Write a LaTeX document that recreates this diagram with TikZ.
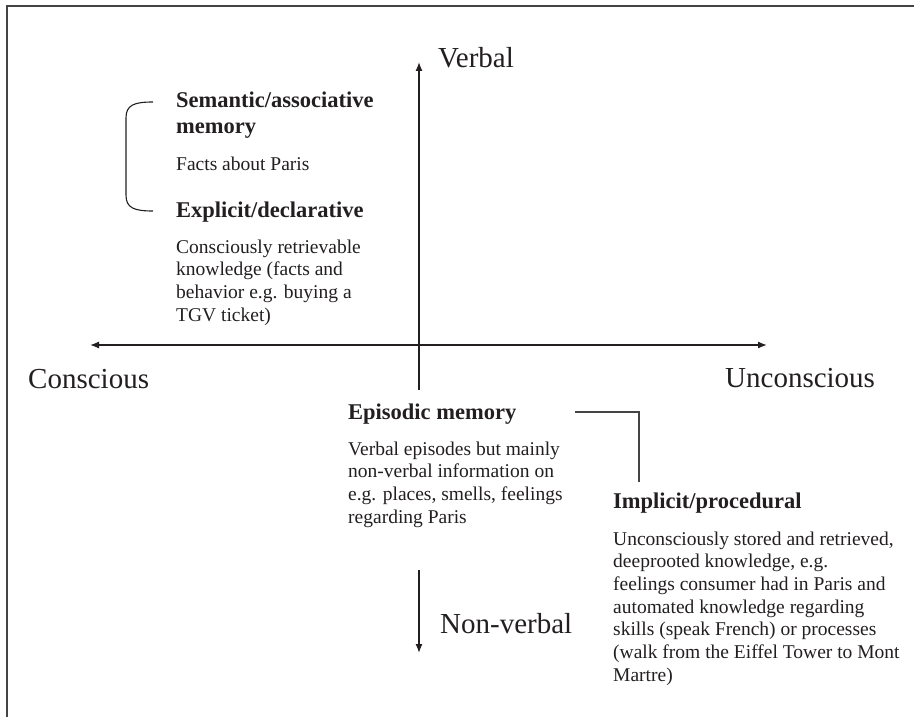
\documentclass[tikz,border=0pt]{standalone}
\usepackage{fontspec}
\setmainfont{Liberation Serif}
\usetikzlibrary{arrows.meta}
\definecolor{ink}{HTML}{231F20}
\definecolor{rule}{HTML}{444444}
\tikzset{
  big/.style={anchor=base west, inner sep=0pt, text=ink, font=\fontsize{29}{33}\selectfont},
  head/.style={anchor=base west, inner sep=0pt, text=ink, font=\fontsize{22.5}{26}\selectfont\bfseries},
  body/.style={anchor=base west, inner sep=0pt, text=ink, font=\fontsize{19.5}{22.7}\selectfont},
  axis/.style={line width=1.3pt, draw=ink},
  tip/.style={-{Latex[length=9pt,width=7pt]}},
  thin/.style={line width=1.1pt, draw=rule}
}
\newcommand{\lines}[1]{\begin{tabular}[t]{@{}l@{}}#1\end{tabular}}
\begin{document}
\begin{tikzpicture}[x=1pt,y=-1pt]
\useasboundingbox (0,0) rectangle (914,717);
% frame (only top and left edges visible)
\draw[line width=1.6pt, draw=rule] (7,717) -- (7,6) -- (914,6);

% axes
\coordinate (vtop) at (419,62);
\coordinate (vmid) at (419,390);
\coordinate (vlow) at (419,570);
\coordinate (vend) at (419,653);
\coordinate (hleft) at (90,345);
\coordinate (hright) at (767,345);
\draw[axis, tip] (vmid) -- (vtop);
\draw[axis, tip] (vlow) -- (vend);
\draw[axis, {Latex[length=9pt,width=7pt]}-{Latex[length=9pt,width=7pt]}] (hleft) -- (hright);

% axis labels
\node[big] (verbal) at (438,68) {Verbal};
\node[big] (nonverbal) at (440,633) {Non-verbal};
\node[big] (conscious) at (28,388) {Conscious};
\node[big] (unconscious) at (725,387) {Unconscious};

% semantic / explicit
\node[head] (sem) at (176,108) {\lines{Semantic/associative\\memory}};
\node[body] (semb) at (176,170) {Facts about Paris};
\node[head] (expl) at (176,217) {Explicit/declarative};
\node[body] (explb) at (176,253) {\lines{Consciously retrievable\\knowledge (facts and\\behavior e.g. buying a\\TGV ticket)}};

% bracket
\coordinate (bt) at (153,102);
\coordinate (bb) at (153,211);
\draw[line width=1.1pt, draw=ink] (bt) .. controls (134,102) and (126,105) .. (126,118)
  -- (126,195) .. controls (126,208) and (134,211) .. (bb);

% episodic
\node[head] (epi) at (348,419) {Episodic memory};
\node[body] (epib) at (348,455) {\lines{Verbal episodes but mainly\\non-verbal information on\\e.g. places, smells, feelings\\regarding Paris}};

% implicit
\node[head] (impl) at (613,508) {Implicit/procedural};
\node[body] (implb) at (613,545) {\lines{Unconsciously stored and retrieved,\\deeprooted knowledge, e.g.\\feelings consumer had in Paris and\\automated knowledge regarding\\skills (speak French) or processes\\(walk from the Eiffel Tower to Mont\\Martre)}};

% connector episodic -> implicit
\coordinate (c1) at (575,412);
\coordinate (c2) at (639,412);
\coordinate (c3) at (639,482);
\draw[thin] (c1) -- (c2) -- (c3);
\end{tikzpicture}
\end{document}
